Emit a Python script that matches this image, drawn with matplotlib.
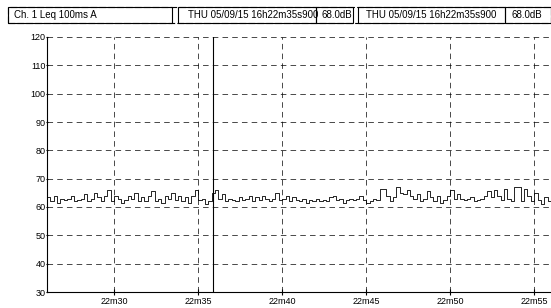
import numpy as np
import matplotlib.pyplot as plt
from matplotlib.patches import Rectangle

# Leq 100ms A trace, sampled every 0.2 s starting at 22m26s
t_start = 26.0
t_step = 0.2
leq = [
    63.5, 62, 64, 61.5, 63, 62.5, 63, 64, 62, 62.5,
    63, 64.5, 62, 63, 65, 63.5, 62, 64, 66, 62,
    64, 63, 61.5, 62.5, 64, 63, 65, 62, 63.5, 62,
    64, 65.5, 62, 63, 61.5, 64, 63, 65, 62.5, 64,
    62, 63.5, 61.5, 64, 66, 62.5, 63, 61, 62, 65,
    66, 63, 64.5, 62, 63, 62.5, 62, 63.5, 62.5, 63,
    64, 62, 63.5, 62.5, 64, 63, 62, 63, 65, 62.5,
    63, 64, 62, 63.5, 62.5, 62, 63, 61.5, 62.5, 62,
    63, 62, 62.5, 62, 63.5, 64, 62.5, 63, 61.5, 62.5,
    63, 62.5, 63, 64, 62.5, 61.5, 62, 63, 62.5, 66.5,
    66.5, 64, 62, 63.5, 67, 65, 64.5, 66, 64, 63,
    64.5, 62, 63, 65.5, 63.5, 62, 64, 61.5, 62.5, 64,
    66, 63, 64.5, 63, 62.5, 63, 63.5, 62, 62.5, 63,
    64, 65.5, 63.5, 66, 64, 62.5, 66.5, 63, 62, 67,
    67, 62, 66.5, 64, 62, 65, 62.5, 61, 63.5, 62,
]
cursor_t = 35.9
x_ticks = [30, 35, 40, 45, 50, 55]
x_labels = ["22m30", "22m35", "22m40", "22m45", "22m50", "22m55"]
y_ticks = [30, 40, 50, 60, 70, 80, 90, 100, 110, 120]
header = [
    ("Ch. 1 Leq 100ms A", 8, 172, 14),
    ("THU 05/09/15 16h22m35s900", 178, 316, 188),
    ("68.0dB", 316, 353, 321),
    ("THU 05/09/15 16h22m35s900", 358, 505, 366),
    ("68.0dB", 505, 551, 511),
]

font = ['Liberation Sans', 'DejaVu Sans']
W, H = 551, 308

fig = plt.figure(figsize=(W / 100, H / 100), dpi=100)
ax = fig.add_axes([47 / W, 16 / H, (W - 47) / W, (292 - 37) / H])

t = t_start + t_step * np.arange(len(leq) + 1)
ax.step(t, leq + [leq[-1]], where='post', color='black', lw=0.6)
ax.axvline(cursor_t, color='black', lw=0.8)

ax.set_xlim(26.0, 56.0)
ax.set_ylim(30, 120)
ax.set_xticks(x_ticks)
ax.set_xticklabels(x_labels, family=font, fontsize=6.5, fontstretch='condensed')
ax.set_yticks(y_ticks)
ax.set_yticklabels([str(v) for v in y_ticks], family=font, fontsize=6.5,
                   fontstretch='condensed')
ax.tick_params(axis='y', length=2, pad=0, direction='inout')
ax.tick_params(axis='x', length=5, pad=1, direction='inout')
ax.grid(True, color='black', lw=0.5, linestyle=(0, (8, 6)))
for s in ['top', 'right']:
    ax.spines[s].set_visible(False)
ax.spines['left'].set_linewidth(0.8)
ax.spines['bottom'].set_linewidth(0.8)

# header bar with channel info and cursor readouts
def fx(px):
    return px / W

def fy(py):
    return 1 - py / H

fig.add_artist(Rectangle((fx(8), fy(23)), fx(543), 16 / H, transform=fig.transFigure,
                         fill=False, lw=0.8, ec='black', linestyle=(0, (6, 2))))
for text, x0, x1, tx in header:
    fig.add_artist(Rectangle((fx(x0), fy(23)), fx(x1 - x0), 16 / H, transform=fig.transFigure,
                             fill=False, lw=0.8, ec='black'))
    fig.text(fx(tx), fy(15), text, family=font, fontsize=7, fontstretch='condensed',
             va='center', ha='left')

fig.savefig("out.png", dpi=100)
